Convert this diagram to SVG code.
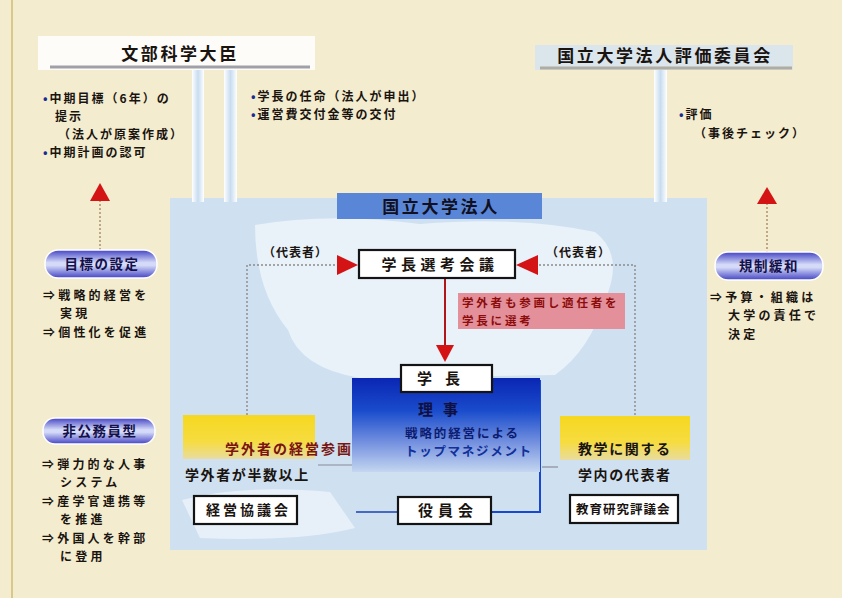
<svg xmlns="http://www.w3.org/2000/svg" width="842" height="598" viewBox="0 0 842 598">
<defs>
<linearGradient id="pill" x1="0" y1="0" x2="0" y2="1">
<stop offset="0" stop-color="#4444c4"/>
<stop offset="0.45" stop-color="#d4daf8"/>
<stop offset="0.55" stop-color="#d4daf8"/>
<stop offset="1" stop-color="#4444c4"/>
</linearGradient>
<linearGradient id="exec" x1="0" y1="0" x2="0" y2="1">
<stop offset="0" stop-color="#0a26b4"/>
<stop offset="0.35" stop-color="#1a4ccc"/>
<stop offset="0.7" stop-color="#7894e0"/>
<stop offset="1" stop-color="#c4d6f0"/>
</linearGradient>
<linearGradient id="yel" x1="0" y1="0" x2="0" y2="1">
<stop offset="0" stop-color="#f6d820"/>
<stop offset="0.6" stop-color="#f6dc40"/>
<stop offset="1" stop-color="#e8dca0"/>
</linearGradient>
<linearGradient id="pipe" x1="0" y1="0" x2="1" y2="0">
<stop offset="0" stop-color="#ffffff"/>
<stop offset="0.5" stop-color="#c8dcf0"/>
<stop offset="1" stop-color="#ffffff"/>
</linearGradient>
</defs>
<style>
text{font-family:"Noto Sans CJK JP","Noto Sans CJK SC",sans-serif;font-weight:700;fill:#1a1410}
.hd{font-size:17px;letter-spacing:2.6px;text-anchor:middle}
.t{font-size:12px;letter-spacing:2px}
.s{font-size:12px;letter-spacing:3.2px}
.pl{font-size:13.5px;letter-spacing:1.5px;text-anchor:middle;fill:#14104a}
.bx{fill:#ffffff;stroke:#141414;stroke-width:2.2}
.pillr{fill:url(#pill);stroke:#ffffff;stroke-width:1.5}
.dot{fill:none;stroke:#8a8a8a;stroke-width:1.4;stroke-dasharray:2 2}
.red{fill:#d41414}
</style>
<rect x="0" y="0" width="842" height="598" fill="#f3ecce"/>
<line x1="12" y1="0" x2="12" y2="598" stroke="#d8c88a" stroke-width="2"/>

<g id="university-area">
<rect x="170" y="198" width="537" height="352" fill="#cfe1f1"/>
<path d="M255 225 Q330 212 420 224 Q520 216 595 232 Q625 255 605 300 Q590 350 555 375 L360 378 Q300 368 288 330 Q255 290 255 225 Z" fill="#ffffff" opacity="0.55"/>
<path d="M182 500 Q240 484 330 492 L355 528 Q300 542 200 538 Z" fill="#ffffff" opacity="0.5"/>
</g>

<g id="connectors">
<rect x="192" y="70" width="12" height="132" fill="url(#pipe)"/>
<rect x="224" y="70" width="13" height="132" fill="url(#pipe)"/>
<rect x="654" y="70" width="13" height="132" fill="url(#pipe)"/>
<line x1="100" y1="200" x2="100" y2="250" stroke="#a88a6a" stroke-width="1.4" stroke-dasharray="2 2"/>
<path class="red" d="M100 183 L110 201 L90 201 Z"/>
<line x1="767" y1="203" x2="767" y2="252" stroke="#a88a6a" stroke-width="1.4" stroke-dasharray="2 2"/>
<path class="red" d="M767 187 L777 204 L757 204 Z"/>
<polyline class="dot" points="247,415 247,265 338,265"/>
<path class="red" d="M358 265 L337 255 L337 275 Z"/>
<polyline class="dot" points="635,415 635,265 537,265"/>
<path class="red" d="M516 265 L538 255 L538 275 Z"/>
<line x1="445" y1="278" x2="445" y2="346" stroke="#b01818" stroke-width="2"/>
<path class="red" d="M445 362 L436 345 L454 345 Z"/>
<line x1="318" y1="465" x2="352" y2="465" stroke="#8a8a9a" stroke-width="1.2"/>
<line x1="542" y1="467" x2="558" y2="467" stroke="#8a8a9a" stroke-width="1.2"/>
<line x1="356" y1="512" x2="398" y2="512" stroke="#1840b0" stroke-width="1.6"/>
<polyline points="540,380 540,512 492,512" fill="none" stroke="#1848d0" stroke-width="2"/>
</g>

<g id="minister">
<rect x="38" y="36" width="277" height="34" fill="#ffffff" opacity="0.85"/>
<line x1="50" y1="67" x2="310" y2="67" stroke="#a0a0a8" stroke-width="3"/>
<text class="hd" x="180" y="60">文部科学大臣</text>
<text class="t" x="43" y="103"><tspan fill="#1a2a90">•</tspan>中期目標（6年）の</text>
<text class="t" x="55" y="121">提示</text>
<text class="t" x="58" y="139">（法人が原案作成）</text>
<text class="t" x="43" y="157"><tspan fill="#1a2a90">•</tspan>中期計画の認可</text>
<text class="t" x="251" y="101"><tspan fill="#1a2a90">•</tspan>学長の任命（法人が申出）</text>
<text class="t" x="251" y="119"><tspan fill="#1a2a90">•</tspan>運営費交付金等の交付</text>
</g>

<g id="evaluation-committee">
<rect x="535" y="45" width="258" height="25" fill="#d4e4f4" opacity="0.8"/>
<line x1="540" y1="68" x2="792" y2="68" stroke="#b0aca0" stroke-width="3"/>
<text class="hd" x="665" y="62">国立大学法人評価委員会</text>
<text class="t" x="679" y="119"><tspan fill="#1a2a90">•</tspan>評価</text>
<text class="t" x="694" y="138">（事後チェック）</text>
</g>

<g id="goal-setting">
<rect class="pillr" x="45" y="250" width="112" height="28" rx="13"/>
<text class="pl" x="102" y="269">目標の設定</text>
<text class="s" x="43" y="300">⇒戦略的経営を</text>
<text class="s" x="60" y="318">実現</text>
<text class="s" x="43" y="337">⇒個性化を促進</text>
</g>

<g id="non-civil-servant">
<rect class="pillr" x="43" y="418" width="112" height="26" rx="12"/>
<text class="pl" x="100" y="436">非公務員型</text>
<text class="s" x="42" y="469">⇒弾力的な人事</text>
<text class="s" x="60" y="487">システム</text>
<text class="s" x="42" y="506">⇒産学官連携等</text>
<text class="s" x="60" y="524">を推進</text>
<text class="s" x="42" y="543">⇒外国人を幹部</text>
<text class="s" x="60" y="561">に登用</text>
</g>

<g id="deregulation">
<rect class="pillr" x="715" y="252" width="108" height="28" rx="13"/>
<text class="pl" x="769" y="271">規制緩和</text>
<text class="s" x="710" y="302">⇒予算・組織は</text>
<text class="s" x="728" y="320">大学の責任で</text>
<text class="s" x="728" y="339">決定</text>
</g>

<g id="corporation-title">
<rect x="337" y="193" width="205" height="26" fill="#5a86d8"/>
<text class="hd" x="441" y="213" style="fill:#101020">国立大学法人</text>
</g>

<g id="selection-council">
<rect class="bx" x="359" y="250" width="156" height="28"/>
<text x="440" y="270" style="font-size:15px;letter-spacing:4.5px;text-anchor:middle">学長選考会議</text>
<text x="263" y="257" style="font-size:12px;letter-spacing:1px">（代表者）</text>
<text x="546" y="257" style="font-size:12px;letter-spacing:1px">（代表者）</text>
</g>

<g id="selection-note">
<rect x="458" y="293" width="167" height="36" fill="#e3909a"/>
<text x="462" y="307" style="font-size:11.5px;letter-spacing:2.8px;fill:#8c0c0c">学外者も参画し適任者を</text>
<text x="462" y="325" style="font-size:11.5px;letter-spacing:2.8px;fill:#8c0c0c">学長に選考</text>
</g>

<g id="executives">
<rect x="352" y="378" width="188" height="94" fill="url(#exec)"/>
<text x="418" y="415" style="font-size:15px;letter-spacing:10px;fill:#101040">理事</text>
<text x="405" y="438" style="font-size:12.5px;letter-spacing:1.9px;fill:#0c1c70">戦略的経営による</text>
<text x="405" y="456" style="font-size:12.5px;letter-spacing:1.7px;fill:#10309a">トップマネジメント</text>
</g>

<g id="president">
<rect class="bx" x="401" y="365" width="91" height="27"/>
<text x="417" y="384" style="font-size:15px;letter-spacing:13px">学長</text>
</g>

<g id="board">
<rect class="bx" x="398" y="497" width="93" height="27"/>
<text x="418" y="516" style="font-size:15px;letter-spacing:5px">役員会</text>
</g>

<g id="management-council">
<rect x="183" y="415" width="132" height="44" fill="url(#yel)"/>
<text x="225" y="454" style="font-size:14px;letter-spacing:2px;fill:#7a1410">学外者の経営参画</text>
<text x="185" y="480" style="font-size:14px;letter-spacing:1.6px">学外者が半数以上</text>
<rect class="bx" x="194" y="496" width="103" height="28"/>
<text x="206" y="515" style="font-size:14px;letter-spacing:3px">経営協議会</text>
</g>

<g id="education-research-council">
<rect x="560" y="416" width="130" height="44" fill="url(#yel)"/>
<text x="578" y="454" style="font-size:14px;letter-spacing:1.6px">教学に関する</text>
<text x="578" y="480" style="font-size:14px;letter-spacing:1.6px">学内の代表者</text>
<rect class="bx" x="570" y="495" width="108" height="28"/>
<text x="576" y="514" style="font-size:12.5px;letter-spacing:1px">教育研究評議会</text>
</g>
</svg>
